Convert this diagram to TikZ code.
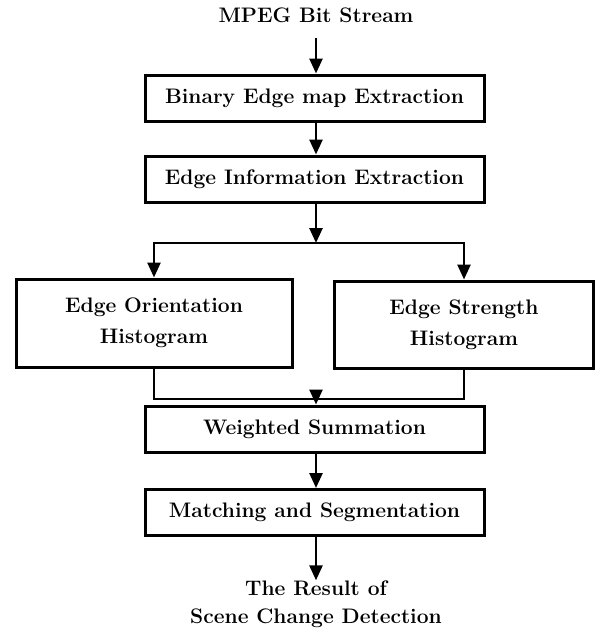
\documentclass[tikz,border=0pt]{standalone}
\usepackage{tikz}
\usepackage{fix-cm}
\usetikzlibrary{arrows.meta,positioning}

\tikzset{
    procbox/.style={draw,line width=3pt,minimum height=46pt,align=center,inner sep=0pt},
    flow/.style={line width=2.6pt,-{Triangle[width=13pt,length=15pt]}},
    wire/.style={line width=2.6pt},
    lbl/.style={align=center,inner sep=0pt}
}

\begin{document}
\begin{tikzpicture}[x=1pt,y=-1pt,font=\fontsize{21}{31}\selectfont\bfseries]
    \useasboundingbox (0,0) rectangle (596,633);

    % input and main column
    \node[lbl] (mpeg) at (316,15) {MPEG Bit Stream};
    \coordinate (mpegend) at (316,38);
    \node[procbox,minimum width=339pt] (binary) at (314.5,98) {Binary Edge map Extraction};
    \node[procbox,minimum width=339pt] (info) at (314.5,179) {Edge Information Extraction};

    % the two histograms
    \node[procbox,minimum width=276pt,minimum height=88pt] (orient) at (154,323) {Edge Orientation\\Histogram};
    \node[procbox,minimum width=259pt,minimum height=87pt] (strength) at (464,324.5) {Edge Strength\\Histogram};

    \node[procbox,minimum width=339pt] (weight) at (314.5,429) {Weighted Summation};
    \node[procbox,minimum width=339pt] (match) at (314.5,512.5) {Matching and Segmentation};
    \node[lbl,font=\fontsize{21}{28}\selectfont\bfseries] (result) at (316,604) {The Result of\\Scene Change Detection};

    \coordinate (split) at (316,243);
    \coordinate (join) at (316,399);

    % connectors
    \draw[flow] (mpegend) -- (binary.north -| mpegend);
    \draw[flow] (binary.south -| mpegend) -- (info.north -| mpegend);
    \draw[flow] (info.south -| split) -- (split);
    \draw[flow] (split) -| (orient.north);
    \draw[flow] (split) -| (strength.north);
    \draw[wire] (orient.south) |- (join);
    \draw[wire] (strength.south) |- (join);
    \draw[flow] (join) -- (weight.north -| join);
    \draw[flow] (weight.south -| join) -- (match.north -| join);
    \draw[flow] (match.south -| join) -- (result.north -| join);
\end{tikzpicture}
\end{document}
